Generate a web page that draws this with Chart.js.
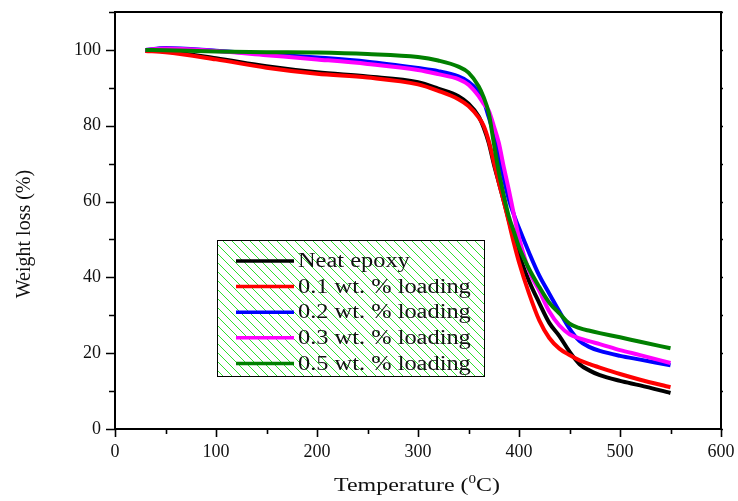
<!DOCTYPE html>
<html>
<head>
<meta charset="utf-8">
<title>TGA curves</title>
<script src="https://cdn.jsdelivr.net/npm/chart.js@4.4.1/dist/chart.umd.min.js"></script>
<style>
    html, body { margin: 0; padding: 0; background: #fff; }
</style>
</head>
<body>
<canvas id="tga-chart" width="738" height="501"></canvas>
<script>
// Temperature (°C) and remaining weight (%) for each sample
const temperature = [30, 50, 100, 150, 200, 250, 300, 320, 340, 350, 360, 365, 370, 375, 380,
                     385, 390, 395, 400, 410, 420, 430, 440, 450, 460, 470, 480, 500, 520, 550];
const neatEpoxy   = [99.8, 99.6, 97.8, 95.7, 94.1, 93.0, 91.5, 89.8, 87.8, 85.8, 82.5, 79.5, 75.5, 70.0, 65.0,
                     60.0, 55.0, 50.0, 46.0, 39.0, 33.3, 28.0, 24.5, 20.4, 17.1, 15.4, 14.2, 12.7, 11.5, 9.5];
const loading01   = [99.7, 99.4, 97.5, 95.3, 93.7, 92.7, 90.9, 89.2, 87.0, 85.2, 82.2, 80.0, 76.0, 70.5, 65.0,
                     60.0, 54.5, 49.0, 44.0, 35.7, 28.7, 24.0, 21.2, 19.5, 18.1, 17.1, 16.2, 14.5, 13.0, 11.0];
const loading02   = [100.0, 100.5, 99.8, 98.9, 98.0, 96.9, 95.2, 94.4, 93.0, 91.6, 89.0, 86.5, 82.3, 77.8, 72.0,
                     66.0, 60.5, 56.5, 53.0, 46.5, 40.5, 35.7, 31.0, 26.5, 23.2, 21.6, 20.6, 19.3, 18.3, 16.8];
const loading03   = [100.0, 100.4, 99.7, 98.6, 97.5, 96.3, 94.7, 93.6, 92.3, 90.8, 87.8, 85.8, 84.0, 80.0, 75.5,
                     69.0, 63.0, 56.5, 50.5, 41.7, 36.5, 31.0, 27.3, 25.0, 23.9, 23.1, 22.4, 20.8, 19.5, 17.4];
const loading05   = [100.0, 99.9, 99.6, 99.4, 99.3, 98.9, 98.1, 97.2, 95.6, 94.0, 90.4, 87.5, 83.4, 75.5, 67.8,
                     61.5, 56.0, 52.0, 48.0, 42.2, 37.5, 33.3, 30.5, 27.8, 26.6, 25.9, 25.3, 24.2, 23.0, 21.3];

const seriesLabels = ['Neat epoxy', '0.1 wt. % loading', '0.2 wt. % loading', '0.3 wt. % loading', '0.5 wt. % loading'];
const seriesColors = ['#000000', '#ff0000', '#0000ff', '#ff00ff', '#008000'];

const xTicks = [0, 100, 200, 300, 400, 500, 600];
const yTicks = [0, 20, 40, 60, 80, 100];
// x title is split so the degree "0" can be set as a superscript
const xTitleParts = ['Temperature (', '0', 'C)'];
const yTitle = 'Weight loss (%)';

const serif = "'Liberation Serif', 'Times New Roman', serif";

function toPoints(values) {
    return temperature.map((t, i) => ({ x: t, y: values[i] }));
}

// Text drawn a bit wider than the font's natural width
function wideText(ctx, text, x, y, stretch) {
    ctx.save();
    ctx.translate(x, y);
    ctx.scale(stretch, 1);
    ctx.fillText(text, 0, 0);
    ctx.restore();
}

function drawXTitle(ctx, cx, baseline, stretch) {
    const [before, sup, after] = xTitleParts;
    ctx.save();
    ctx.textAlign = 'left';
    ctx.textBaseline = 'alphabetic';
    ctx.font = '19px ' + serif;
    const w1 = ctx.measureText(before).width;
    const w3 = ctx.measureText(after).width;
    ctx.font = '12px ' + serif;
    const w2 = ctx.measureText(sup).width;
    const total = (w1 + w2 + w3) * stretch;
    ctx.translate(cx - total / 2, baseline);
    ctx.scale(stretch, 1);
    ctx.font = '19px ' + serif;
    ctx.fillText(before, 0, 0);
    ctx.fillText(after, w1 + w2, 0);
    ctx.font = '12px ' + serif;
    ctx.fillText(sup, w1, -8);
    ctx.restore();
}

// Box frame with major/minor tick marks, plus axis titles
const framePlugin = {
    id: 'frame',
    afterDraw(chart) {
        const { ctx, chartArea: a, scales } = chart;
        const x = scales.x, y = scales.y;
        ctx.save();
        ctx.strokeStyle = '#000';
        ctx.lineWidth = 2;
        ctx.strokeRect(a.left, a.top, a.right - a.left, a.bottom - a.top);

        ctx.lineWidth = 1.6;
        ctx.beginPath();
        for (let v = 0; v <= 600; v += 50) {
            const px = Math.round(x.getPixelForValue(v)) + 0.5;
            const major = v % 100 === 0;
            ctx.moveTo(px, a.bottom);
            ctx.lineTo(px, a.bottom + (major ? 8 : 5));
            ctx.moveTo(px, a.top);
            ctx.lineTo(px, a.top - 1);
        }
        for (let v = 0; v <= 110; v += 10) {
            const py = Math.round(y.getPixelForValue(v)) + 0.5;
            const major = v % 20 === 0;
            ctx.moveTo(a.left, py);
            ctx.lineTo(a.left - (major ? 9 : 6), py);
            ctx.moveTo(a.right, py);
            ctx.lineTo(a.right + 2, py);
        }
        ctx.stroke();

        ctx.fillStyle = '#111';
        drawXTitle(ctx, 417, 491, 1.26);

        ctx.font = '20px ' + serif;
        ctx.textAlign = 'center';
        ctx.textBaseline = 'alphabetic';
        ctx.translate(30, 234);
        ctx.rotate(-Math.PI / 2);
        ctx.fillText(yTitle, 0, 0);
        ctx.restore();
    }
};

// Legend box with green diagonal hatching
const hatchLegendPlugin = {
    id: 'hatchLegend',
    afterDraw(chart, args, opts) {
        const ctx = chart.ctx;
        const { left, top, width, height } = opts;

        const tile = document.createElement('canvas');
        tile.width = 9;
        tile.height = 9;
        const tctx = tile.getContext('2d');
        tctx.strokeStyle = '#2ee02e';
        tctx.lineWidth = 1;
        tctx.beginPath();
        tctx.moveTo(-1, -1);
        tctx.lineTo(10, 10);
        tctx.stroke();

        ctx.save();
        ctx.fillStyle = '#fff';
        ctx.fillRect(left, top, width, height);
        ctx.fillStyle = ctx.createPattern(tile, 'repeat');
        ctx.fillRect(left, top, width, height);
        ctx.strokeStyle = '#000';
        ctx.lineWidth = 1;
        ctx.strokeRect(left + 0.5, top + 0.5, width, height);

        ctx.font = '20px ' + serif;
        ctx.textBaseline = 'middle';
        ctx.textAlign = 'left';
        chart.data.datasets.forEach((ds, i) => {
            const rowY = top + 21 + i * 25.6;
            ctx.strokeStyle = ds.borderColor;
            ctx.lineWidth = 3.5;
            ctx.beginPath();
            ctx.moveTo(left + 19, rowY);
            ctx.lineTo(left + 77, rowY);
            ctx.stroke();
            ctx.fillStyle = '#111';
            wideText(ctx, ds.label, left + 81, rowY + 1, 1.22);
        });
        ctx.restore();
    }
};

new Chart(document.getElementById('tga-chart'), {
    type: 'line',
    data: {
        datasets: [neatEpoxy, loading01, loading02, loading03, loading05].map((values, i) => ({
            label: seriesLabels[i],
            data: toPoints(values),
            borderColor: seriesColors[i],
            backgroundColor: seriesColors[i],
            borderWidth: 4,
            pointRadius: 0,
            fill: false,
            cubicInterpolationMode: 'monotone',
            order: 5 - i
        }))
    },
    options: {
        responsive: false,
        animation: false,
        devicePixelRatio: 1,
        layout: { padding: { top: 12, right: 17, left: 0, bottom: 0 } },
        plugins: {
            legend: { display: false },
            tooltip: { enabled: false },
            hatchLegend: { left: 217, top: 240, width: 267, height: 136 }
        },
        scales: {
            x: {
                type: 'linear',
                min: 0,
                max: 600,
                afterBuildTicks: s => { s.ticks = xTicks.map(v => ({ value: v })); },
                afterFit: s => {
                    s.height = 72;
                    s.paddingLeft = 0;
                    s.paddingRight = 0;
                },
                grid: { display: false, drawTicks: false },
                border: { display: false },
                ticks: {
                    padding: 12,
                    color: '#111',
                    font: { family: serif, size: 18 }
                }
            },
            y: {
                type: 'linear',
                min: 0,
                max: 110,
                afterBuildTicks: s => { s.ticks = yTicks.map(v => ({ value: v })); },
                afterFit: s => {
                    s.width = 115;
                    s.paddingTop = 0;
                    s.paddingBottom = 0;
                },
                grid: { display: false, drawTicks: false },
                border: { display: false },
                ticks: {
                    padding: 14,
                    color: '#111',
                    font: { family: serif, size: 18 }
                }
            }
        }
    },
    plugins: [framePlugin, hatchLegendPlugin]
});
</script>
</body>
</html>
